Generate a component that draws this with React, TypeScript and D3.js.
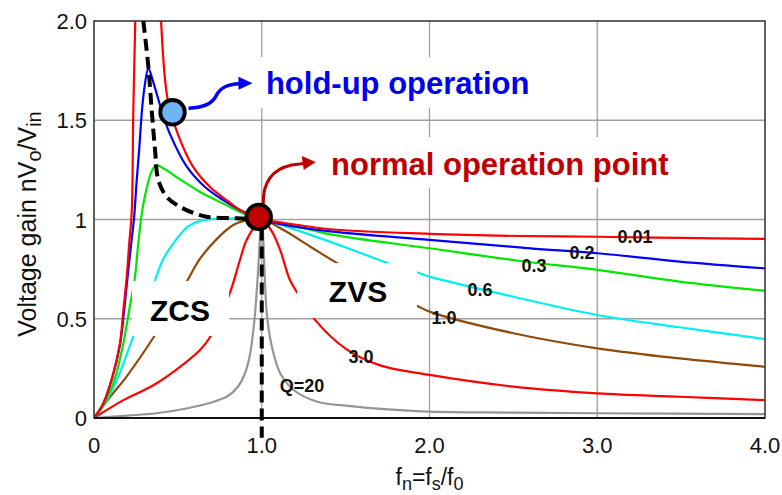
import React from 'react';
import * as d3 from 'd3';

const W = 782;
const H = 495;

const X_TICKS = [0, 1, 2, 3, 4];
const X_TICK_LABELS = ['0', '1.0', '2.0', '3.0', '4.0'];
const Y_TICKS = [0, 0.5, 1, 1.5, 2];
const Y_TICK_LABELS = ['0', '0.5', '1', '1.5', '2.0'];

// Q = 0.01
const Q001_FN = [0, 0.056, 0.111, 0.155, 0.175, 0.195, 0.21, 0.225, 0.234, 0.246, 0.256, 0.392, 0.4, 0.44, 0.5, 0.59, 0.69, 0.79, 0.87, 1.0, 1.11, 1.41, 2.0, 2.54, 3.0, 3.5, 4.0];
const Q001_GAIN = [0, 0.075, 0.21, 0.377, 0.544, 0.71, 0.88, 1.04, 1.53, 2.0, 2.4, 2.4, 2.0, 1.6, 1.43, 1.266, 1.165, 1.098, 1.048, 1.0, 0.986, 0.951, 0.928, 0.917, 0.913, 0.907, 0.902];
// Q = 0.2
const Q02_FN = [0, 0.056, 0.111, 0.155, 0.18, 0.2, 0.222, 0.24, 0.254, 0.27, 0.284, 0.3, 0.324, 0.354, 0.41, 0.453, 0.553, 0.66, 0.77, 0.87, 1.0, 1.11, 1.41, 2.0, 2.6, 3.0, 3.49, 4.0];
const Q02_GAIN = [0, 0.075, 0.21, 0.37, 0.544, 0.71, 0.88, 1.02, 1.19, 1.36, 1.53, 1.66, 1.76, 1.69, 1.53, 1.43, 1.266, 1.165, 1.098, 1.048, 1.0, 0.977, 0.94, 0.897, 0.855, 0.83, 0.788, 0.754];
// Q = 0.3
const Q03_FN = [0, 0.06, 0.125, 0.175, 0.21, 0.244, 0.264, 0.288, 0.314, 0.34, 0.368, 0.42, 0.49, 0.63, 0.77, 0.89, 1.0, 1.2, 1.41, 2.0, 2.54, 3.0, 3.49, 4.0];
const Q03_GAIN = [0, 0.07, 0.2, 0.377, 0.544, 0.71, 0.88, 1.048, 1.157, 1.235, 1.272, 1.255, 1.215, 1.14, 1.08, 1.03, 1.0, 0.968, 0.925, 0.855, 0.791, 0.746, 0.687, 0.641];
// Q = 0.6
const Q06_FN = [0, 0.07, 0.145, 0.235, 0.364, 0.41, 0.473, 0.56, 0.65, 0.8, 1.0, 1.23, 1.53, 1.765, 1.925, 2.0, 2.5, 3.0, 3.49, 4.0];
const Q06_GAIN = [0, 0.08, 0.21, 0.413, 0.695, 0.796, 0.88, 0.964, 0.997, 1.005, 1.0, 0.94, 0.85, 0.776, 0.734, 0.712, 0.611, 0.519, 0.457, 0.398];
// Q = 1.0
const Q10_FN = [0, 0.1, 0.195, 0.364, 0.553, 0.63, 0.73, 0.83, 0.89, 1.0, 1.13, 1.29, 1.45, 1.925, 2.0, 2.5, 3.0, 3.49, 4.0];
const Q10_GAIN = [0, 0.11, 0.21, 0.418, 0.687, 0.8, 0.9, 0.972, 0.992, 1.0, 0.947, 0.863, 0.78, 0.566, 0.536, 0.427, 0.351, 0.3, 0.258];
// Q = 3.0
const Q30_FN = [0, 0.175, 0.374, 0.632, 0.7, 0.81, 0.87, 0.91, 1.0, 1.06, 1.11, 1.168, 1.22, 1.31, 1.51, 1.705, 2.0, 2.5, 3.0, 3.49, 4.0];
const Q30_GAIN = [0, 0.09, 0.175, 0.343, 0.418, 0.63, 0.796, 0.897, 1.0, 0.94, 0.846, 0.695, 0.62, 0.502, 0.343, 0.265, 0.217, 0.158, 0.124, 0.107, 0.09];
// Q = 20
const Q20_FN = [0, 0.2, 0.373, 0.55, 0.7, 0.8, 0.86, 0.9, 0.93, 0.955, 0.975, 1.0, 1.03, 1.06, 1.11, 1.19, 1.33, 1.53, 1.92, 2.5, 3.0, 4.0];
const Q20_GAIN = [0, 0.012, 0.024, 0.048, 0.078, 0.112, 0.16, 0.225, 0.32, 0.48, 0.7, 1.0, 0.527, 0.36, 0.225, 0.141, 0.082, 0.06, 0.035, 0.027, 0.024, 0.02];

// dashed boundary between ZCS / ZVS
const BOUNDARY_FN = [0.294, 0.324, 0.344, 0.364, 0.383, 0.433, 0.53, 0.67, 0.85, 1.0];
const BOUNDARY_GAIN = [2.0, 1.77, 1.55, 1.35, 1.2, 1.115, 1.056, 1.014, 1.006, 1.0];
const BOUNDARY_BOTTOM_GAIN = -0.1;

const HOLDUP_POINT = [0.468, 1.54];
const NORMAL_POINT = [0.982, 1.013];

const Q_NAMES = ['0.01', '0.2', '0.3', '0.6', '1.0', '3.0', 'Q=20'];

const FONT = '"Liberation Sans", Arial, Helvetica, sans-serif';

const xs = d3.scaleLinear().domain([0, 4]).range([94, 765]);
const ys = d3.scaleLinear().domain([0, 2]).range([418, 21]);

const series = [
  { name: Q_NAMES[6], fn: Q20_FN, gain: Q20_GAIN, color: '#959595', lx: 1.24, ly: 0.131 },
  { name: Q_NAMES[5], fn: Q30_FN, gain: Q30_GAIN, color: '#ff0000', lx: 1.592, ly: 0.277 },
  { name: Q_NAMES[4], fn: Q10_FN, gain: Q10_GAIN, color: '#8f4a0c', lx: 2.086, ly: 0.474 },
  { name: Q_NAMES[3], fn: Q06_FN, gain: Q06_GAIN, color: '#00f0f0', lx: 2.301, ly: 0.615 },
  { name: Q_NAMES[2], fn: Q03_FN, gain: Q03_GAIN, color: '#00e600', lx: 2.623, ly: 0.736 },
  { name: Q_NAMES[1], fn: Q02_FN, gain: Q02_GAIN, color: '#0000ff', lx: 2.909, ly: 0.801 },
  { name: Q_NAMES[0], fn: Q001_FN, gain: Q001_GAIN, color: '#ff0000', lx: 3.225, ly: 0.882 },
];

const line = d3
  .line<[number, number]>()
  .x((d) => xs(d[0]))
  .y((d) => ys(d[1]))
  .curve(d3.curveCatmullRom.alpha(0.5));

const zip = (a: number[], b: number[]) => a.map((v, i) => [v, b[i]] as [number, number]);

export default function App() {
  const x0 = xs(0), x1 = xs(4), y0 = ys(0), y1 = ys(2);
  const boundaryPath =
    (line(zip(BOUNDARY_FN, BOUNDARY_GAIN)) || '') +
    `L${xs(1)},${ys(BOUNDARY_BOTTOM_GAIN)}`;

  const hx = xs(HOLDUP_POINT[0]), hy = ys(HOLDUP_POINT[1]);
  const nx = xs(NORMAL_POINT[0]), ny = ys(NORMAL_POINT[1]);

  const holdX = xs(1.025), holdY = ys(1.632);
  const normX = xs(1.413), normY = ys(1.224);
  const zcsX = xs(0.513), zcsY = ys(0.489);
  const zvsX = xs(1.574), zvsY = ys(0.584);

  return (
    <svg
      width={W}
      height={H}
      viewBox={`0 0 ${W} ${H}`}
      style={{ position: 'fixed', left: 0, top: 0, background: '#fff' }}
      fontFamily={FONT}
    >
      <defs>
        <clipPath id="plot">
          <rect x={x0} y={y1} width={x1 - x0} height={y0 - y1} />
        </clipPath>
      </defs>
      <rect x={0} y={0} width={W} height={H} fill="#fff" />

      {X_TICKS.slice(1, -1).map((t) => (
        <line key={'gx' + t} x1={xs(t)} x2={xs(t)} y1={y1} y2={y0} stroke="#a0a0a0" strokeWidth={1.3} />
      ))}
      {Y_TICKS.slice(1, -1).map((t) => (
        <line key={'gy' + t} x1={x0} x2={x1} y1={ys(t)} y2={ys(t)} stroke="#a0a0a0" strokeWidth={1.3} />
      ))}

      <g clipPath="url(#plot)" fill="none" strokeWidth={2.2} strokeLinejoin="round">
        {series.map((s, i) => (
          <path key={i} d={line(zip(s.fn, s.gain)) || ''} stroke={s.color} />
        ))}
      </g>

      <rect x={zcsX - 48} y={zcsY - 40} width={97} height={55} fill="#fff" />
      <rect x={zvsX - 61} y={zvsY - 39} width={120} height={55} fill="#fff" />
      <rect x={holdX - 11} y={holdY - 37} width={285} height={51} fill="#fff" />
      <rect x={normX - 11} y={normY - 38} width={360} height={51} fill="#fff" />

      <rect x={x0} y={y1} width={x1 - x0} height={y0 - y1} fill="none" stroke="#3a3a3a" strokeWidth={1.6} />
      <line x1={x0} x2={x1} y1={y0} y2={y0} stroke="#111" strokeWidth={2} />

      <path d={boundaryPath} fill="none" stroke="#000" strokeWidth={4} strokeDasharray="12,6" />

      <path
        d={`M${hx + 16},${hy - 4} C${hx + 33},${hy - 5} ${hx + 40},${hy - 9} ${hx + 44},${hy - 17} C${hx + 48},${hy - 25} ${hx + 55},${hy - 28} ${hx + 67},${hy - 28.5}`}
        fill="none"
        stroke="#0000f0"
        strokeWidth={3.5}
      />
      <polygon
        points={`${hx + 80},${hy - 29} ${hx + 66},${hy - 35.5} ${hx + 66},${hy - 22.5}`}
        fill="#0000f0"
      />
      <path
        d={`M${nx + 4.5},${ny - 13} C${nx + 4},${ny - 35} ${nx + 14},${ny - 48} ${nx + 33},${ny - 52} L${nx + 45},${ny - 53.5}`}
        fill="none"
        stroke="#c00000"
        strokeWidth={3}
      />
      <polygon
        points={`${nx + 57},${ny - 55} ${nx + 43},${ny - 61} ${nx + 45},${ny - 47}`}
        fill="#c00000"
      />

      <circle cx={hx} cy={hy} r={12.3} fill="#70b4f6" stroke="#000" strokeWidth={3.8} />
      <circle cx={nx} cy={ny} r={12.3} fill="#c00000" stroke="#000" strokeWidth={3.8} />

      <text x={holdX} y={holdY} fontSize={31} fontWeight="bold" fill="#0000ee">hold-up operation</text>
      <text x={normX} y={normY} fontSize={31} fontWeight="bold" fill="#c00000">normal operation point</text>
      <text x={zcsX} y={zcsY} fontSize={30} fontWeight="bold" textAnchor="middle" fill="#000">ZCS</text>
      <text x={zvsX} y={zvsY} fontSize={30} fontWeight="bold" textAnchor="middle" fill="#000">ZVS</text>

      {series.map((s, i) => (
        <text key={'l' + i} x={xs(s.lx)} y={ys(s.ly)} fontSize={18} fontWeight="bold" textAnchor="middle" fill="#111">
          {s.name}
        </text>
      ))}

      {X_TICKS.map((t, i) => (
        <text key={'xt' + t} x={xs(t)} y={453} fontSize={22} textAnchor="middle" fill="#111">
          {X_TICK_LABELS[i]}
        </text>
      ))}
      {Y_TICKS.map((t, i) => (
        <text key={'yt' + t} x={87} y={ys(t) + 8} fontSize={22} textAnchor="end" fill="#111">
          {Y_TICK_LABELS[i]}
        </text>
      ))}

      <text x={(x0 + x1) / 2} y={485} fontSize={23} textAnchor="middle" fill="#111">
        f<tspan dy={5} fontSize={18}>n</tspan>
        <tspan dy={-5}>=f</tspan>
        <tspan dy={5} fontSize={18}>s</tspan>
        <tspan dy={-5}>/f</tspan>
        <tspan dy={5} fontSize={18}>0</tspan>
      </text>
      <text transform={`translate(36,${224}) rotate(-90)`} fontSize={25} textAnchor="middle" fill="#111">
        Voltage gain nV<tspan dy={5} fontSize={20}>o</tspan>
        <tspan dy={-5}>/V</tspan>
        <tspan dy={5} fontSize={20}>in</tspan>
      </text>
    </svg>
  );
}
